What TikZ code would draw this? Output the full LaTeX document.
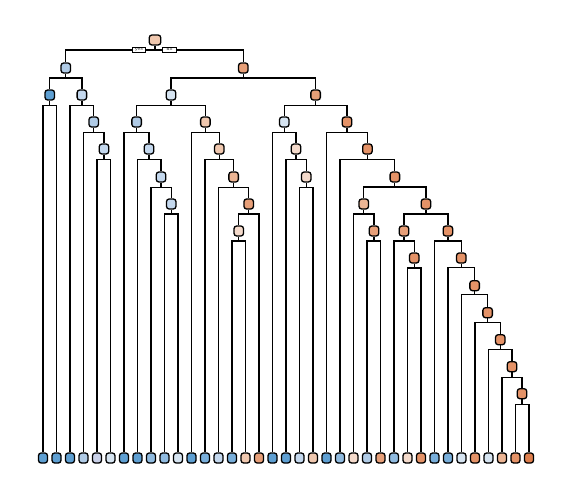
\documentclass[tikz,border=0pt]{standalone}
\usepackage{tikz}

% node colours (blue = left class, orange = right class)
\definecolor{bl1}{HTML}{5E9FD2}
\definecolor{bl2}{HTML}{78AEDA}
\definecolor{bl3}{HTML}{90BBE0}
\definecolor{bl4}{HTML}{B0CBE6}
\definecolor{bl5}{HTML}{C4D8EE}
\definecolor{bl6}{HTML}{D6E4F1}
\definecolor{lav}{HTML}{C9D0E8}
\definecolor{or1}{HTML}{F4DACB}
\definecolor{or2}{HTML}{F0C8AF}
\definecolor{or3}{HTML}{ECB594}
\definecolor{or4}{HTML}{E79F78}
\definecolor{or5}{HTML}{E49267}
\definecolor{or6}{HTML}{DE7F4D}

\tikzset{
  tnode/.style={draw, rectangle, rounded corners=1.5pt, line width=0.75pt,
    minimum width=0.19cm, minimum height=0.2cm, inner sep=0pt},
  leaf/.style={tnode, minimum width=0.18cm},
  yesno/.style={draw, rectangle, fill=white, line width=0.6pt, inner sep=0pt,
    minimum width=0.27cm, minimum height=0.11cm, font=\fontsize{2.5}{2.5}\selectfont},
  conn/.style={line width=0.7pt}
}

\begin{document}
\begin{tikzpicture}[x=0.02cm, y=-0.02cm]
    \useasboundingbox (0,0) rectangle (573,500);

    % Root
    \node[tnode, fill=or2, minimum width=0.23cm] (n1) at (155, 40) {};

    % Depth 1
    \node[tnode, fill=bl4] (n2) at (65.8, 68) {};
    \node[tnode, fill=or4] (n3) at (243.3, 68) {};

    % Depth 2
    \node[tnode, fill=bl1] (n4) at (49.75, 95) {};
    \node[tnode, fill=bl5] (n5) at (81.9, 95) {};
    \node[tnode, fill=bl6] (n6) at (171, 95) {};
    \node[tnode, fill=or4] (n7) at (315.6, 95) {};

    % Depth 3
    \node[tnode, fill=bl4] (n11) at (93.7, 122) {};
    \node[tnode, fill=bl4] (n12) at (136.6, 122) {};
    \node[tnode, fill=or2] (n13) at (205.4, 122) {};
    \node[tnode, fill=bl6] (n14) at (284.25, 122) {};
    \node[tnode, fill=or5] (n15) at (346.95, 122) {};

    % Depth 4
    \node[tnode, fill=bl5] (n23) at (104, 149) {};
    \node[tnode, fill=bl5] (n25) at (149, 149) {};
    \node[tnode, fill=or2] (n27) at (219.3, 149) {};
    \node[tnode, fill=or1] (n29) at (296, 149) {};
    \node[tnode, fill=or5] (n31) at (367.4, 149) {};

    % Depth 5
    \node[tnode, fill=bl5] (n51) at (161, 177) {};
    \node[tnode, fill=or3] (n55) at (233.6, 177) {};
    \node[tnode, fill=or1] (n59) at (306.25, 177) {};
    \node[tnode, fill=or5] (n63) at (394.85, 177) {};

    % Depth 6
    \node[tnode, fill=bl5] (n103) at (171.25, 204) {};
    \node[tnode, fill=or4] (n111) at (248.7, 204) {};
    \node[tnode, fill=or3] (n126) at (363.75, 204) {};
    \node[tnode, fill=or5] (n127) at (425.95, 204) {};

    % Depth 7
    \node[tnode, fill=or1] (n222) at (238.75, 231) {};
    \node[tnode, fill=or4] (n253) at (374, 231) {};
    \node[tnode, fill=or4] (n254) at (404, 231) {};
    \node[tnode, fill=or5] (n255) at (447.9, 231) {};

    % Depth 8 and below
    \node[tnode, fill=or5] (n509) at (414.25, 258) {};
    \node[tnode, fill=or5] (n511) at (461.3, 258) {};
    \node[tnode, fill=or5] (n1023) at (474.6, 285.7) {};
    \node[tnode, fill=or5] (n2047) at (487.6, 312.7) {};
    \node[tnode, fill=or5] (n4095) at (500.25, 339.7) {};
    \node[tnode, fill=or5] (n8191) at (512, 366.7) {};
    \node[tnode, fill=or5] (n16383) at (522, 393.7) {};

    % Leaves
    \node[leaf, fill=bl1] (l0) at (43, 458) {};
    \node[leaf, fill=bl1] (l1) at (56.5, 458) {};
    \node[leaf, fill=bl1] (l2) at (70, 458) {};
    \node[leaf, fill=bl4] (l3) at (83.5, 458) {};
    \node[leaf, fill=lav] (l4) at (97, 458) {};
    \node[leaf, fill=bl6] (l5) at (110.5, 458) {};
    \node[leaf, fill=bl1] (l6) at (124, 458) {};
    \node[leaf, fill=bl1] (l7) at (137.5, 458) {};
    \node[leaf, fill=bl3] (l8) at (151, 458) {};
    \node[leaf, fill=bl3] (l9) at (164.5, 458) {};
    \node[leaf, fill=bl6] (l10) at (178, 458) {};
    \node[leaf, fill=bl1] (l11) at (191.5, 458) {};
    \node[leaf, fill=bl2] (l12) at (205, 458) {};
    \node[leaf, fill=bl5] (l13) at (218.5, 458) {};
    \node[leaf, fill=bl2] (l14) at (232, 458) {};
    \node[leaf, fill=or2] (l15) at (245.5, 458) {};
    \node[leaf, fill=or4] (l16) at (259, 458) {};
    \node[leaf, fill=bl1] (l17) at (272.5, 458) {};
    \node[leaf, fill=bl1] (l18) at (286, 458) {};
    \node[leaf, fill=bl5] (l19) at (299.5, 458) {};
    \node[leaf, fill=or2] (l20) at (313, 458) {};
    \node[leaf, fill=bl1] (l21) at (326.5, 458) {};
    \node[leaf, fill=bl3] (l22) at (340, 458) {};
    \node[leaf, fill=or1] (l23) at (353.5, 458) {};
    \node[leaf, fill=bl4] (l24) at (367, 458) {};
    \node[leaf, fill=or4] (l25) at (380.5, 458) {};
    \node[leaf, fill=bl3] (l26) at (394, 458) {};
    \node[leaf, fill=or1] (l27) at (407.5, 458) {};
    \node[leaf, fill=or5] (l28) at (421, 458) {};
    \node[leaf, fill=bl2] (l29) at (434.5, 458) {};
    \node[leaf, fill=bl2] (l30) at (448, 458) {};
    \node[leaf, fill=bl6] (l31) at (461.5, 458) {};
    \node[leaf, fill=or5] (l32) at (475, 458) {};
    \node[leaf, fill=bl6] (l33) at (488.5, 458) {};
    \node[leaf, fill=or3] (l34) at (502, 458) {};
    \node[leaf, fill=or5] (l35) at (515.5, 458) {};
    \node[leaf, fill=or6] (l36) at (529, 458) {};

    % Splits
    \draw[conn] (n1) -- ++(0,10) coordinate (s1) -| (n2) (s1) -| (n3);
    \draw[conn] (n2) -- ++(0,10) coordinate (s2) -| (n4) (s2) -| (n5);
    \draw[conn] (n3) -- ++(0,10) coordinate (s3) -| (n6) (s3) -| (n7);
    \draw[conn] (n4) -- ++(0,10.5) coordinate (s4) -| (l0) (s4) -| (l1);
    \draw[conn] (n5) -- ++(0,10.5) coordinate (s5) -| (l2) (s5) -| (n11);
    \draw[conn] (n6) -- ++(0,10.5) coordinate (s6) -| (n12) (s6) -| (n13);
    \draw[conn] (n7) -- ++(0,10.5) coordinate (s7) -| (n14) (s7) -| (n15);
    \draw[conn] (n11) -- ++(0,10.5) coordinate (s11) -| (l3) (s11) -| (n23);
    \draw[conn] (n12) -- ++(0,10.5) coordinate (s12) -| (l6) (s12) -| (n25);
    \draw[conn] (n13) -- ++(0,10.5) coordinate (s13) -| (l11) (s13) -| (n27);
    \draw[conn] (n14) -- ++(0,10.5) coordinate (s14) -| (l17) (s14) -| (n29);
    \draw[conn] (n15) -- ++(0,10.5) coordinate (s15) -| (l21) (s15) -| (n31);
    \draw[conn] (n23) -- ++(0,10.5) coordinate (s23) -| (l4) (s23) -| (l5);
    \draw[conn] (n25) -- ++(0,10.5) coordinate (s25) -| (l7) (s25) -| (n51);
    \draw[conn] (n27) -- ++(0,10.5) coordinate (s27) -| (l12) (s27) -| (n55);
    \draw[conn] (n29) -- ++(0,10.5) coordinate (s29) -| (l18) (s29) -| (n59);
    \draw[conn] (n31) -- ++(0,10.5) coordinate (s31) -| (l22) (s31) -| (n63);
    \draw[conn] (n51) -- ++(0,10.5) coordinate (s51) -| (l8) (s51) -| (n103);
    \draw[conn] (n55) -- ++(0,10.5) coordinate (s55) -| (l13) (s55) -| (n111);
    \draw[conn] (n59) -- ++(0,10.5) coordinate (s59) -| (l19) (s59) -| (l20);
    \draw[conn] (n63) -- ++(0,10) coordinate (s63) -| (n126) (s63) -| (n127);
    \draw[conn] (n103) -- ++(0,10) coordinate (s103) -| (l9) (s103) -| (l10);
    \draw[conn] (n111) -- ++(0,10) coordinate (s111) -| (n222) (s111) -| (l16);
    \draw[conn] (n126) -- ++(0,10) coordinate (s126) -| (l23) (s126) -| (n253);
    \draw[conn] (n127) -- ++(0,10) coordinate (s127) -| (n254) (s127) -| (n255);
    \draw[conn] (n222) -- ++(0,10) coordinate (s222) -| (l14) (s222) -| (l15);
    \draw[conn] (n253) -- ++(0,10) coordinate (s253) -| (l24) (s253) -| (l25);
    \draw[conn] (n254) -- ++(0,10) coordinate (s254) -| (l26) (s254) -| (n509);
    \draw[conn] (n255) -- ++(0,10) coordinate (s255) -| (l29) (s255) -| (n511);
    \draw[conn] (n509) -- ++(0,10) coordinate (s509) -| (l27) (s509) -| (l28);
    \draw[conn] (n511) -- ++(0,9.5) coordinate (s511) -| (l30) (s511) -| (n1023);
    \draw[conn] (n1023) -- ++(0,9) coordinate (s1023) -| (l31) (s1023) -| (n2047);
    \draw[conn] (n2047) -- ++(0,9.5) coordinate (s2047) -| (l32) (s2047) -| (n4095);
    \draw[conn] (n4095) -- ++(0,10) coordinate (s4095) -| (l33) (s4095) -| (n8191);
    \draw[conn] (n8191) -- ++(0,10.5) coordinate (s8191) -| (l34) (s8191) -| (n16383);
    \draw[conn] (n16383) -- ++(0,10.5) coordinate (s16383) -| (l35) (s16383) -| (l36);

    % yes / no boxes on the root split
    \node[yesno] (yes) at (139, 50) {yes};
    \node[yesno] (no) at (169.5, 50) {no};

\end{tikzpicture}
\end{document}
